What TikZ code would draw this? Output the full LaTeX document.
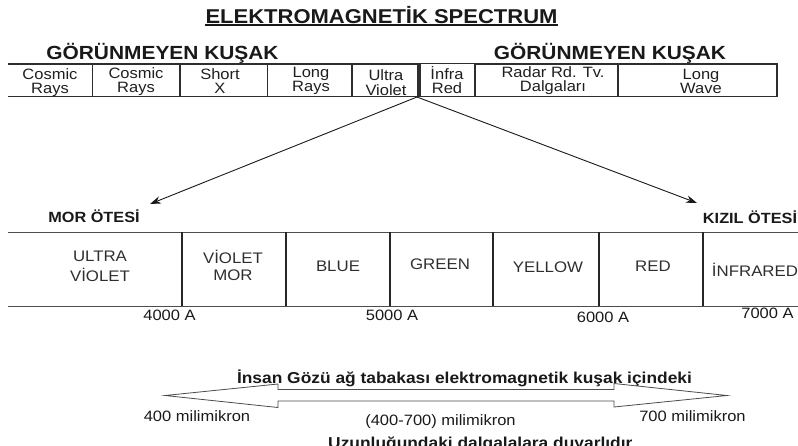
\documentclass[tikz,border=0pt]{standalone}
\usepackage{fontspec}
\setmainfont{Liberation Sans}[FakeStretch=1.1]
\usetikzlibrary{arrows.meta}
\newcommand\topstrut{\rule[-3.5pt]{0pt}{14.5pt}}
\newcommand\midstrut{\rule[-5.5pt]{0pt}{17.5pt}}
\tikzset{
  cell/.style={align=center, inner sep=0pt, text=black!88, font=\fontsize{15}{14.5}\selectfont},
  band/.style={align=center, inner sep=0pt, text=black!82, font=\fontsize{15.3}{17.5}\selectfont},
  ttl/.style={inner sep=0pt, anchor=base, text=black!90, font=\bfseries\fontsize{20}{22}\selectfont},
  hdr/.style={inner sep=0pt, anchor=base, text=black!90, font=\bfseries\fontsize{19}{21}\selectfont},
  sub/.style={inner sep=0pt, anchor=base, text=black!90, font=\bfseries\fontsize{14.8}{16}\selectfont},
  lab/.style={inner sep=0pt, anchor=base, text=black!90, font=\fontsize{15}{16}\selectfont},
  note/.style={inner sep=0pt, anchor=base, text=black!90, font=\bfseries\fontsize{15.8}{17}\selectfont},
  frame/.style={draw=black!82, line width=1.2pt},
  hline/.style={draw=black!70, line width=1pt},
  vline/.style={draw=black!85, line width=1.4pt},
  ptr/.style={draw=black!90, line width=0.9pt, -{Stealth[length=11pt, width=7.5pt]}},
  hollow/.style={draw=black!70, line width=0.8pt, fill=white, line join=miter},
}
\begin{document}
\begin{tikzpicture}[x=1pt, y=-1pt]
\useasboundingbox (0,0) rectangle (798,445);
% title
\node[ttl] (title) at (381.5,23) {ELEKTROMAGNETİK SPECTRUM};
\draw[line width=1.2pt, black!90] ([yshift=-2pt]title.base west) -- ([yshift=-2pt]title.base east);
\node[hdr] (invL) at (162.5,59.3) {GÖRÜNMEYEN KUŞAK};
\node[hdr] (invR) at (610,59.5) {GÖRÜNMEYEN KUŞAK};
% top strip
\draw[frame] (8,64) -- (418,64) -- (418,96.5) -- (8,96.5);
\foreach \xx in {92.5,180,267.5,352} \draw[frame] (\xx,64) -- (\xx,96.5);
\draw[frame] (420,63.5) rectangle (475,96.5);
\draw[frame] (475,64) rectangle (777,96.5);
\draw[frame] (618,64) -- (618,96.5);
\node[cell] (c1) at (50,82.5)  {\topstrut Cosmic\\\topstrut Rays};
\node[cell] (c2) at (136,81.5) {\topstrut Cosmic\\\topstrut Rays};
\node[cell] (c3) at (220,82.5) {\topstrut Short\\\topstrut X};
\node[cell] (c4) at (311,80.5) {\topstrut Long\\\topstrut Rays};
\node[cell] (c5) at (386,84)   {\topstrut Ultra\\\topstrut Violet};
\node[cell] (c6) at (447,81.8) {\topstrut İnfra\\\topstrut Red};
\node[cell] (c7) at (553,80.8) {\topstrut Radar Rd. Tv.\\\topstrut Dalgaları};
\node[cell] (c8) at (701,82.5) {\topstrut Long\\\topstrut Wave};
% pointers
\coordinate (junc) at (417,97);
\coordinate (tipL) at (150,204);
\coordinate (tipR) at (697,203);
\draw[ptr] (junc) -- (tipL);
\draw[ptr] (junc) -- (tipR);
\node[sub] (mor) at (94,222) {MOR ÖTESİ};
\node[sub] (kizil) at (750,223) {KIZIL ÖTESİ};
% middle strip
\draw[hline] (8,232) -- (798,232);
\draw[hline] (8,306) -- (798,306);
\foreach \xx in {182,286,390,493,599,703} \draw[vline] (\xx,232) -- (\xx,306);
\node[band] (b1) at (100,268.2) {\midstrut ULTRA\\\midstrut VİOLET};
\node[band] (b2) at (233,268)   {\midstrut VİOLET\\\midstrut MOR};
\node[band] (b3) at (338,268.5) {\midstrut BLUE};
\node[band] (b4) at (440,266.7) {\midstrut GREEN};
\node[band] (b5) at (548,269.7) {\midstrut YELLOW};
\node[band] (b6) at (653,268.5) {\midstrut RED};
\node[band] (b7) at (755,272.7) {\midstrut İNFRARED};
\node[lab] (w4) at (169.5,320) {4000 A};
\node[lab] (w5) at (392,320)   {5000 A};
\node[lab] (w6) at (603,322.7) {6000 A};
\node[lab] (w7) at (767.5,318) {7000 A};
% bottom
\node[note] (eye) at (464.5,383.3) {İnsan Gözü ağ tabakası elektromagnetik kuşak içindeki};
\coordinate (aL) at (165,395.5);
\coordinate (aR) at (727,395.5);
\draw[hollow] (aL) -- (278,384) -- (278,389.5) -- (614,389.5) -- (614,383.5) -- (aR)
  -- (614,407) -- (614,401) -- (278,401) -- (278,407.5) -- cycle;
\node[lab] (m400) at (197,421.7) {400 milimikron};
\node[lab] (mrng) at (440.5,425) {(400-700) milimikron};
\node[lab] (m700) at (692.5,421.7) {700 milimikron};
\node[note, anchor=base west] (tail) at (328,448.5) {Uzunluğundaki dalgalalara duyarlıdır};
\end{tikzpicture}
\end{document}
